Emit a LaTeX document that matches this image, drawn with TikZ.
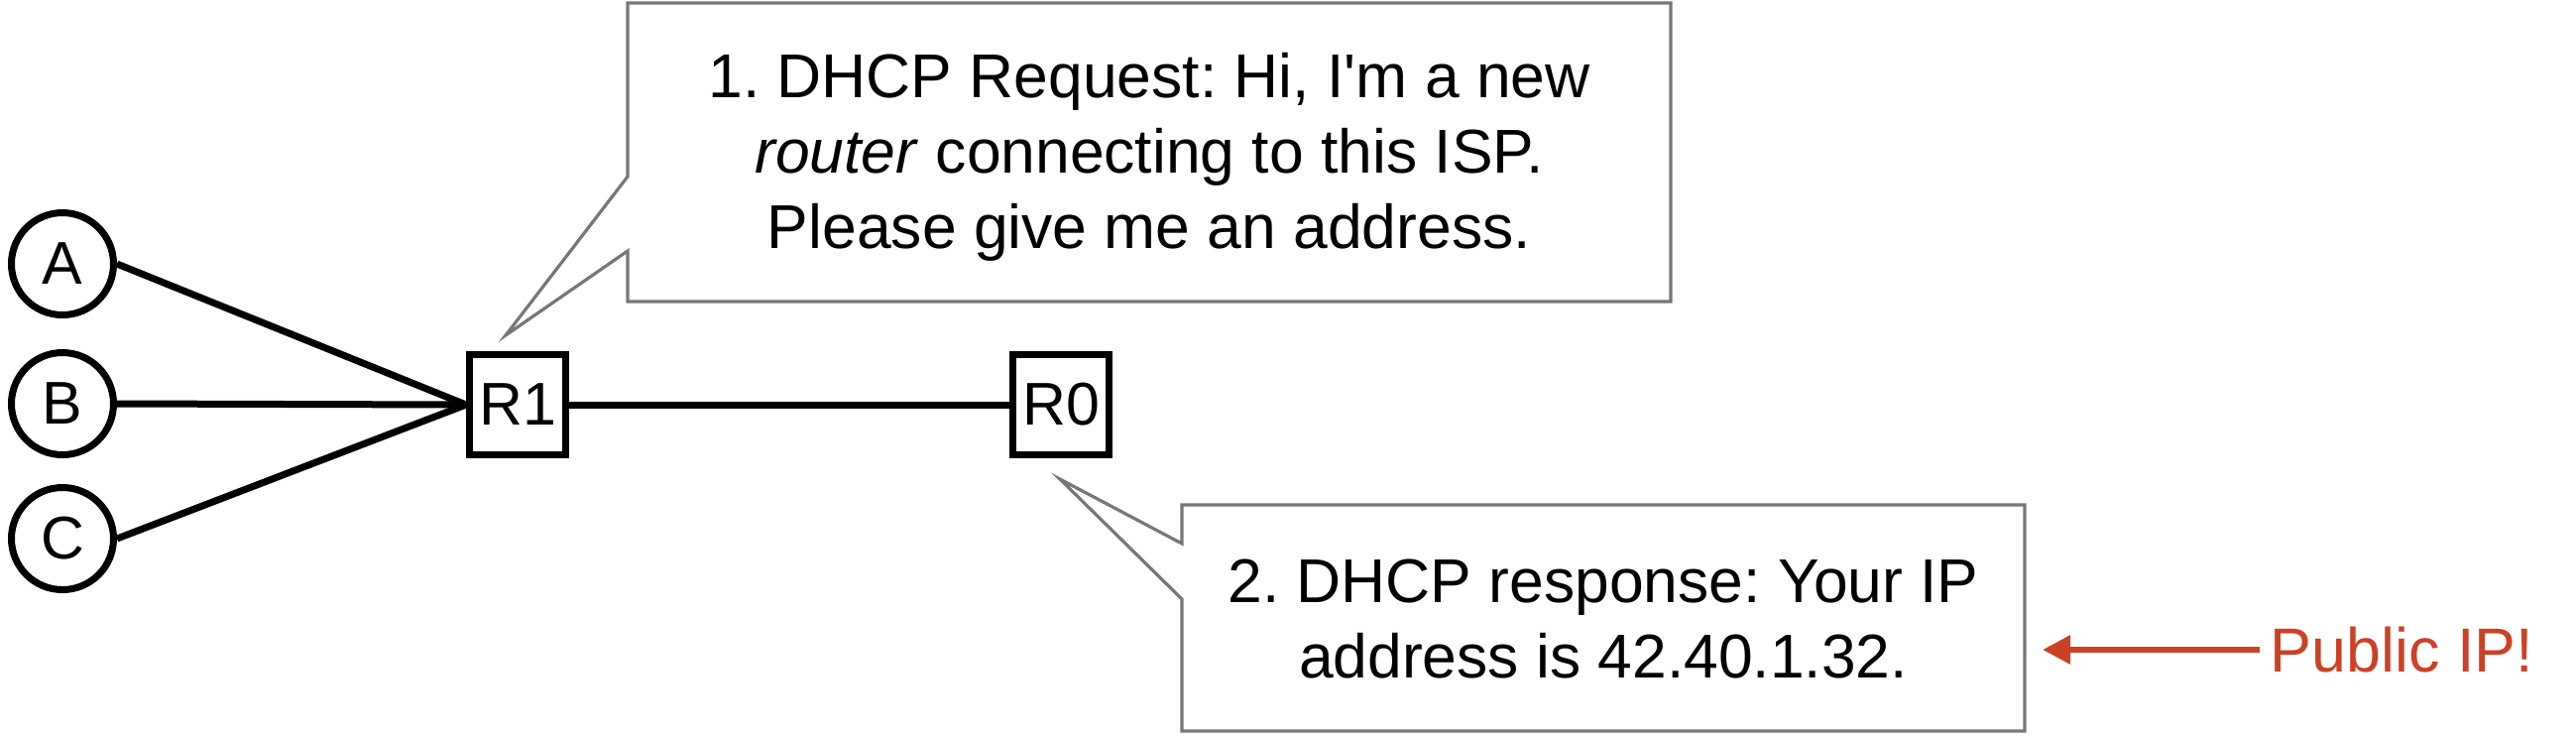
\documentclass[tikz,border=0pt]{standalone}
\usepackage{fontspec}
\setmainfont{Liberation Sans}
\usetikzlibrary{arrows.meta}
\definecolor{calloutgray}{HTML}{777777}
\definecolor{pubred}{HTML}{CC4125}
\frenchspacing
\begin{document}
\begin{tikzpicture}[x=0.25pt,y=-0.25pt,
  host/.style={circle,draw=black,line width=1.75pt,minimum size=25.75pt,inner sep=0pt,font=\fontsize{15.2}{18}\selectfont},
  router/.style={rectangle,draw=black,line width=1.75pt,minimum width=24.25pt,minimum height=25.25pt,inner sep=0pt,font=\fontsize{15.2}{18}\selectfont},
  link/.style={line width=1.75pt,draw=black},
  callout/.style={draw=calloutgray,line width=0.8pt,fill=white,line join=miter},
  msg/.style={align=center,font=\fontsize{15.6}{19}\selectfont\frenchspacing,inner sep=0pt},
]
\useasboundingbox (0,0) rectangle (2598,742);
% hosts and routers
\node[host] (A) at (63,266) {A};
\node[host] (B) at (63,407) {B};
\node[host] (C) at (63,543) {C};
\node[router] (R1) at (522,408) {R1};
\node[router] (R0) at (1070,408) {R0};
\draw[link] (A.east) -- (R1.west);
\draw[link] (B.east) -- (R1.west);
\draw[link] (C.east) -- (R1.west);
\draw[link] (R1) -- (R0);
% callout 1
\draw[callout] (633,3) -- (1685,3) -- (1685,304) -- (633,304) -- (633,253) -- (510,338) -- (633,178) -- cycle;
\node[msg,anchor=base] (m1) at (1159,250) {1. DHCP Request: Hi, I\textquotesingle m a new\\\textit{router} connecting to this ISP.\\Please give me an address.};
% callout 2
\draw[callout] (1192,509) -- (2042,509) -- (2042,737) -- (1192,737) -- (1192,604) -- (1069,483) -- (1192,548) -- cycle;
\node[msg,anchor=base] (m2) at (1617,683) {2. DHCP response: Your IP\\address is 42.40.1.32.};
% public IP label
\node[font=\fontsize{15.7}{19}\selectfont,text=pubred,anchor=base west,inner sep=0pt] (pub) at (2289,677) {Public IP!};
\coordinate (tip) at (2060,655);
\draw[draw=pubred,line width=1.5pt,-{Triangle[length=7pt,width=7pt]}] (pub.west |- tip) ++(-10,0) -- (tip);
\end{tikzpicture}
\end{document}
